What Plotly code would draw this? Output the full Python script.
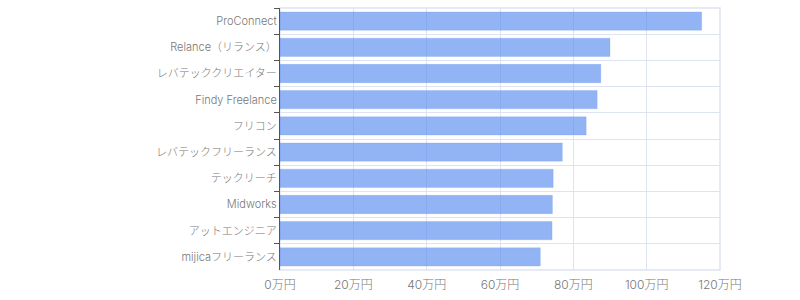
import plotly.graph_objects as go

categories = ["ProConnect", "Relance（リランス）", "レバテッククリエイター", "Findy Freelance", "フリコン",
              "レバテックフリーランス", "テックリーチ", "Midworks", "アットエンジニア", "mijicaフリーランス"]
values = [115, 90, 87.5, 86.5, 83.5, 77, 74.5, 74.3, 74.2, 71]
tick_vals = [0, 20, 40, 60, 80, 100, 120]
tick_text = ["0万円", "20万円", "40万円", "60万円", "80万円", "100万円", "120万円"]

fig = go.Figure(go.Bar(
    x=values, y=categories, orientation="h",
    marker=dict(color="rgba(91,141,239,0.66)", line=dict(color="rgba(91,141,239,0.2)", width=1)),
    width=0.7,
))
font = "Inter, Noto Sans CJK JP"
fig.update_layout(
    width=800, height=300,
    margin=dict(l=280, r=80, t=8, b=30),
    plot_bgcolor="white", paper_bgcolor="white",
    showlegend=False,
    font=dict(family=font, color="#777"),
    shapes=[dict(type="rect", xref="paper", yref="paper", x0=0, x1=1, y0=0, y1=1,
                 line=dict(color="#dde3f0", width=1.5), layer="below")],
)
fig.update_xaxes(
    range=[0, 120], tickvals=tick_vals, ticktext=tick_text,
    showgrid=True, gridcolor="#dde3f0", gridwidth=1,
    zeroline=False, showline=False,
    tickfont=dict(size=12, color="#777", weight=300), ticks="", ticklabelstandoff=6,
)
fig.update_yaxes(
    autorange="reversed", tickson="boundaries",
    showgrid=True, gridcolor="#dde3f0", gridwidth=1,
    showline=True, linecolor="#555", linewidth=1,
    ticks="outside", ticklen=5, tickcolor="#555",
    tickfont=dict(size=11, color="#777", weight=300),
)
fig.write_html("out.html")
